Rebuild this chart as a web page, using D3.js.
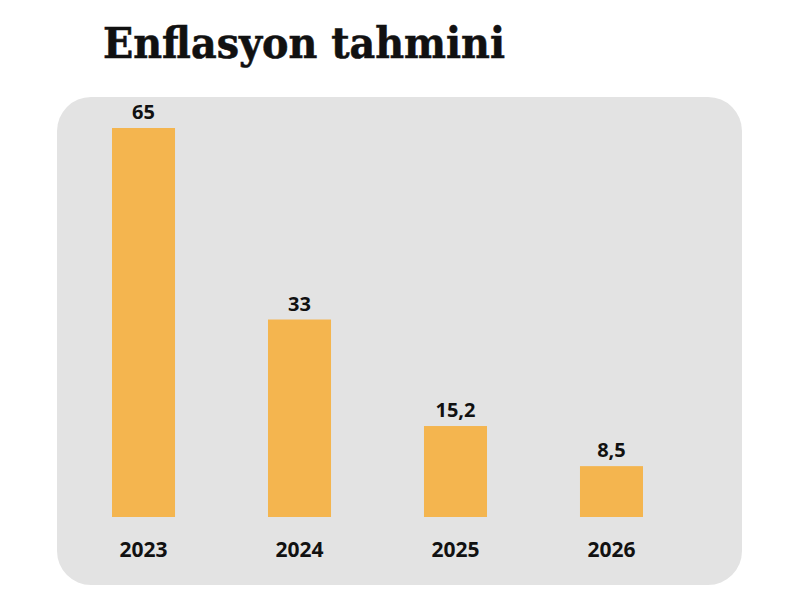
<!DOCTYPE html>
<html><head><meta charset="utf-8">
<script src="https://cdn.jsdelivr.net/npm/d3@7"></script>
<style>body{margin:0;background:#fff}svg{display:block}</style>
</head><body>
<script>
const title = "Enflasyon tahmini";
const years = ["2023", "2024", "2025", "2026"];
const values = [65, 33, 15.2, 8.5];
const valueLabels = ["65", "33", "15,2", "8,5"];

const W = 800, H = 616;
const svg = d3.select("body").append("svg").attr("width", W).attr("height", H);

svg.append("rect").attr("x", 57).attr("y", 97).attr("width", 685).attr("height", 488)
  .attr("rx", 34).attr("ry", 34).attr("fill", "#e3e3e3");

svg.append("text").attr("x", 103).attr("y", 58)
  .attr("font-family", "'DejaVu Serif', serif").attr("font-weight", "bold")
  .attr("font-size", 43).attr("fill", "#111")
  .attr("stroke", "#111").attr("stroke-width", 0.6)
  .attr("textLength", 402).attr("lengthAdjust", "spacingAndGlyphs")
  .text(title);

const x = d3.scaleBand().domain(years).range([112, 643]).paddingInner(0.596).paddingOuter(0);
const y = d3.scaleLinear().domain([0, 65]).range([517, 128]);

const g = svg.append("g");
g.selectAll("rect.bar").data(values).join("rect").attr("class", "bar")
  .attr("x", (d, i) => x(years[i])).attr("width", x.bandwidth())
  .attr("y", d => y(d)).attr("height", d => y(0) - y(d))
  .attr("fill", "#f4b54f");

g.selectAll("text.val").data(values).join("text").attr("class", "val")
  .attr("x", (d, i) => x(years[i]) + x.bandwidth() / 2)
  .attr("y", d => y(d) - 9)
  .attr("text-anchor", "middle")
  .attr("font-family", "'Open Sans', sans-serif").attr("font-weight", "bold")
  .attr("font-size", 20).attr("fill", "#111")
  .text((d, i) => valueLabels[i]);

const xAxis = d3.axisBottom(x).tickSize(0).tickPadding(0);
const ax = svg.append("g").attr("transform", "translate(0,542)").call(xAxis);
ax.select(".domain").remove();
ax.selectAll("text").attr("font-family", "'Open Sans', sans-serif").attr("font-weight", "bold")
  .attr("font-size", 21).attr("fill", "#111");
</script>
</body></html>
